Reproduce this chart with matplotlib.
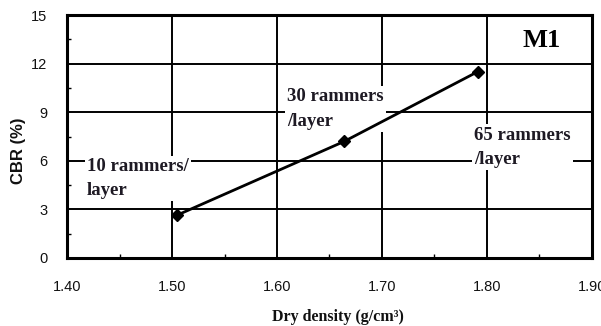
import matplotlib
matplotlib.use("Agg")
import matplotlib.pyplot as plt
from matplotlib.ticker import MultipleLocator
from matplotlib import font_manager

# Data
dry_density = [1.505, 1.664, 1.791]
cbr = [2.65, 7.2, 11.5]
labels = ["10 rammers/\nlayer", "30 rammers\n/layer", "65 rammers\n/layer"]
x_ticks = [1.40, 1.50, 1.60, 1.70, 1.80, 1.90]
y_ticks = [0, 3, 6, 9, 12, 15]

names = {f.name for f in font_manager.fontManager.ttflist}
tick_family = "Liberation Sans Narrow" if "Liberation Sans Narrow" in names else "Liberation Sans"
tick_size = 11.5 if tick_family == "Liberation Sans Narrow" else 10.5

fig = plt.figure(figsize=(6.01, 3.26), dpi=100)
ax = fig.add_axes([0.1115, 0.2086, 0.8735, 0.745])

ax.set_xlim(1.40, 1.90)
ax.set_ylim(0, 15)
ax.set_xticks(x_ticks)
ax.set_yticks(y_ticks)
ax.set_xticklabels([f"{v:.2f}" for v in x_ticks])
ax.set_yticklabels([str(v) for v in y_ticks])
ax.xaxis.set_minor_locator(MultipleLocator(0.05))
ax.yaxis.set_minor_locator(MultipleLocator(1.5))
ax.tick_params(axis="x", which="major", length=0, pad=16)
ax.tick_params(axis="y", which="major", length=0, pad=14)
ax.tick_params(which="minor", direction="in", length=3, width=1, color="black")
for lab in ax.get_xticklabels() + ax.get_yticklabels():
    lab.set_fontfamily(tick_family)
    lab.set_fontsize(tick_size)
    lab.set_color("#111111")

ax.grid(True, which="major", color="black", linewidth=1.4, zorder=0.5)
ax.set_axisbelow(True)
for sp in ax.spines.values():
    sp.set_linewidth(2.2)
    sp.set_color("black")

ax.plot(dry_density, cbr, color="black", linewidth=2, marker="D", markersize=6.5, zorder=3)

txt_kw = dict(fontfamily="Liberation Serif", fontweight="bold", fontsize=13.5,
              color="#1e1a24", linespacing=1.55, zorder=2,
              bbox=dict(facecolor="white", edgecolor="none", pad=1.5))
ax.text(1.419, 4.9, labels[0], ha="left", va="center", **txt_kw)
ax.text(1.6095, 9.2, labels[1], ha="left", va="center", **txt_kw)
ax.text(1.7876, 6.85, labels[2], ha="left", va="center", **txt_kw)

ax.text(0.941, 0.897, "M1", transform=ax.transAxes, ha="right", va="center",
        fontfamily="Liberation Serif", fontweight="bold", fontsize=19, color="black")

fig.text(338 / 601, 1 - 317 / 326, "Dry density (g/cm\u00b3)", ha="center", va="center",
         fontfamily="Liberation Serif", fontweight="bold", fontsize=11.5, color="#111111")
fig.text(18 / 601, 1 - 151 / 326, "CBR (%)", ha="center", va="center", rotation=90,
         fontfamily="Liberation Sans", fontweight="bold", fontsize=12, color="#111111")

fig.savefig("out.png", dpi=100)
